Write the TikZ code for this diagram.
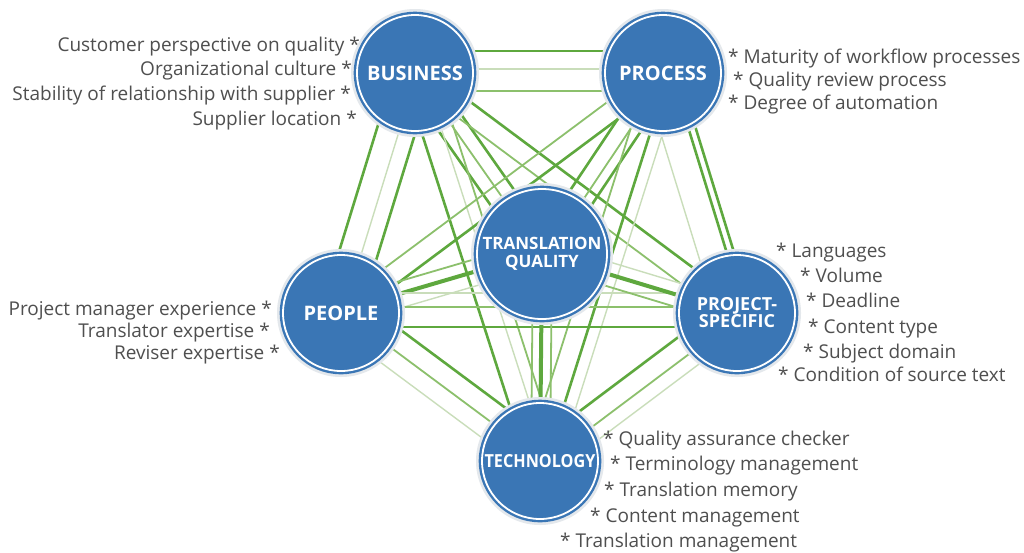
\documentclass[tikz,border=0pt]{standalone}
\usepackage{fontspec}
\setmainfont{Open Sans}
\usetikzlibrary{calc,backgrounds}
\definecolor{nblue}{HTML}{3A76B5}
\definecolor{gdark}{HTML}{5EA83E}
\definecolor{gmid}{HTML}{8CC06C}
\definecolor{glight}{HTML}{C9DDBA}
\definecolor{tgray}{HTML}{4F4F4F}
\definecolor{haloc}{HTML}{E4E8EC}
\newcommand\wline[4]{\draw[#4] ($(#1)!#3pt!90:(#2)$) -- ($(#2)!#3pt!-90:(#1)$);}
\newcommand\fsz[1]{\fontsize{#1}{#1}\selectfont}
\begin{document}
\begin{tikzpicture}[x=1pt,y=-1pt,
  circ/.style={circle, fill=nblue, draw=nblue, line width=2.4pt, double=white,
    double distance=1.8pt, minimum size=116pt, inner sep=0pt,
    font=\bfseries\fsz{20}, text=white, align=center},
  big/.style={minimum size=130pt},
  lbl/.style={font=\fsz{19}, text=tgray, inner sep=0pt},
  gA/.style={draw=gdark, line width=2.6pt},
  gB/.style={draw=gmid, line width=1.8pt},
  gC/.style={draw=glight, line width=1.4pt},
  gAA/.style={draw=gdark, line width=4pt}]
\useasboundingbox (0,0) rectangle (1024,552);

\node[circ] (B) at (415,73) {BUSINESS};
\node[circ] (Pr) at (663,73) {PROCESS};
\node[circ,big,font=\bfseries\fsz{17}] (TQ) at (542,254) {TRANSLATION\\[1pt]QUALITY};
\node[circ] (Pe) at (341,313) {PEOPLE};
\node[circ,font=\bfseries\fsz{18}] (Pj) at (737,313) {PROJECT-\\[-1pt]SPECIFIC};
\node[circ,font=\bfseries\fsz{18}] (T) at (540,461) {\scalebox{0.9}[1]{TECHNOLOGY}};

\begin{pgfonlayer}{background}
\fill[white] (0,0) rectangle (1024,552);
\wline{B}{Pr}{-18}{gB}\wline{B}{Pr}{4}{gC}\wline{B}{Pr}{22}{gA}
\wline{B}{Pe}{-20}{gA}\wline{B}{Pe}{2}{gC}\wline{B}{Pe}{18}{gA}
\wline{B}{TQ}{-14}{gA}\wline{B}{TQ}{0}{gB}\wline{B}{TQ}{14}{gA}
\wline{B}{Pj}{-10}{gB}\wline{B}{Pj}{10}{gA}
\wline{B}{T}{-12}{gA}\wline{B}{T}{8}{gC}\wline{B}{T}{20}{gB}
\wline{Pr}{Pj}{-20}{gC}\wline{Pr}{Pj}{8}{gA}\wline{Pr}{Pj}{15}{gA}
\wline{Pr}{TQ}{-12}{gA}\wline{Pr}{TQ}{4}{gB}\wline{Pr}{TQ}{14}{gA}
\wline{Pr}{Pe}{-10}{gB}\wline{Pr}{Pe}{10}{gA}
\wline{Pr}{T}{-14}{gB}\wline{Pr}{T}{6}{gA}\wline{Pr}{T}{18}{gC}
\wline{Pe}{TQ}{-12}{gC}\wline{Pe}{TQ}{2}{gAA}\wline{Pe}{TQ}{14}{gB}
\wline{Pe}{Pj}{-14}{gA}\wline{Pe}{Pj}{6}{gB}\wline{Pe}{Pj}{20}{gC}
\wline{Pe}{T}{-16}{gC}\wline{Pe}{T}{2}{gB}\wline{Pe}{T}{22}{gA}
\wline{TQ}{Pj}{-12}{gB}\wline{TQ}{Pj}{0}{gAA}\wline{TQ}{Pj}{12}{gC}
\wline{TQ}{T}{-9}{gB}\wline{TQ}{T}{0}{gAA}\wline{TQ}{T}{10}{gB}
\wline{Pj}{T}{-16}{gA}\wline{Pj}{T}{4}{gB}\wline{Pj}{T}{18}{gC}
\fill[haloc] (B.center) circle (64);
\fill[haloc] (Pr.center) circle (64);
\fill[haloc] (TQ.center) circle (71);
\fill[haloc] (Pe.center) circle (64);
\fill[haloc] (Pj.center) circle (64);
\fill[haloc] (T.center) circle (64);
\end{pgfonlayer}

\node[lbl, anchor=base east] (b1) at (360,51) {Customer perspective on quality *};
\node[lbl, anchor=base east] (b2) at (352,75) {Organizational culture *};
\node[lbl, anchor=base east] (b3) at (351,100) {Stability of relationship with supplier *};
\node[lbl, anchor=base east] (b4) at (357,125) {Supplier location *};

\node[lbl, anchor=base west] (p1) at (728,63) {* Maturity of workflow processes};
\node[lbl, anchor=base west] (p2) at (733,86) {* Quality review process};
\node[lbl, anchor=base west] (p3) at (728,109) {* Degree of automation};

\node[lbl, anchor=base east] (e1) at (272,315) {Project manager experience *};
\node[lbl, anchor=base east] (e2) at (270,337) {Translator expertise *};
\node[lbl, anchor=base east] (e3) at (280,359) {Reviser expertise *};

\node[lbl, anchor=base west] (j1) at (776,257) {* Languages};
\node[lbl, anchor=base west] (j2) at (800,282) {* Volume};
\node[lbl, anchor=base west] (j3) at (806,307) {* Deadline};
\node[lbl, anchor=base west] (j4) at (808,333) {* Content type};
\node[lbl, anchor=base west] (j5) at (803,358) {* Subject domain};
\node[lbl, anchor=base west] (j6) at (778,381) {* Condition of source text};

\node[lbl, anchor=base west] (t1) at (603,445) {* Quality assurance checker};
\node[lbl, anchor=base west] (t2) at (610,470) {* Terminology management};
\node[lbl, anchor=base west] (t3) at (604,496) {* Translation memory};
\node[lbl, anchor=base west] (t4) at (590,522) {* Content management};
\node[lbl, anchor=base west] (t5) at (560,547) {* Translation management};
\end{tikzpicture}
\end{document}
